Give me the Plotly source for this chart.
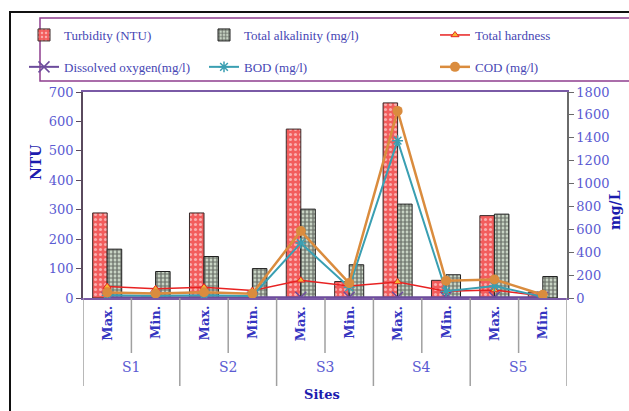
import plotly.graph_objects as go

# ---------------- data ----------------
sites = ["S1", "S2", "S3", "S4", "S5"]
levels = ["Max.", "Min."]
turbidity = [289, 3, 289, 3, 574, 56, 663, 60, 280, 20]          # NTU (left axis)
alkalinity = [166, 90, 141, 100, 302, 113, 319, 79, 285, 73]     # left axis
hardness = [100, 80, 95, 65, 155, 105, 140, 58, 70, 18]          # mg/L (right axis)
dissolved_oxygen = [7, 6, 7, 6, 7, 6, 7, 6, 7, 6]
bod = [25, 20, 25, 18, 480, 95, 1375, 60, 105, 10]
cod = [48, 40, 50, 38, 585, 130, 1635, 150, 162, 28]

# ---------------- geometry helpers ----------------
W, H = 629, 411
L, R, T, B = 83, 567, 92, 298
PW, PH = R - L, B - T


def px(xp):
    return (xp - L) / PW


def py(yp):
    return (B - yp) / PH


def cx(xp):
    return xp / W


def cy(yp):
    return 1 - yp / H


n = len(sites) * len(levels)
xs = list(range(n))
cat_labels = [lv for s in sites for lv in levels]

TICK = "#5b5bd2"
LBL = "#3434c0"
TTL = "#1c1cae"
LEG = "#4646b4"
SERIF = "DejaVu Serif"

fig = go.Figure()

fig.add_trace(go.Bar(
    x=xs, y=turbidity, name="Turbidity (NTU)", legend="legend",
    legendgroup="a",
    marker=dict(color="#f25c5c", line=dict(color="#3a2a2a", width=1),
                pattern=dict(shape=".", fgcolor="#ffffff", bgcolor="#f25c5c",
                             size=5, solidity=0.3)),
))
fig.add_trace(go.Bar(
    x=xs, y=alkalinity, name="Total alkalinity (mg/l)", legend="legend2",
    legendgroup="b",
    marker=dict(color="#e4f2e0", line=dict(color="#202020", width=1),
                pattern=dict(shape=".", fgcolor="#101010", bgcolor="#e4f2e0",
                             size=4, solidity=0.7)),
))

fig.add_trace(go.Scatter(
    x=xs, y=hardness, name="Total hardness", yaxis="y2", legend="legend3",
    legendgroup="c", mode="lines+markers",
    line=dict(color="#e82222", width=1.5),
    marker=dict(symbol="triangle-up", size=7, color="#f4b630",
                line=dict(color="#e82222", width=1)),
))
fig.add_trace(go.Scatter(
    x=xs, y=dissolved_oxygen, name="Dissolved oxygen(mg/l)", yaxis="y2",
    legend="legend", legendgroup="d", mode="lines+markers",
    line=dict(color="#6c4c9c", width=2),
    marker=dict(symbol="x-thin-open", size=11, color="#6c4c9c",
                line=dict(color="#6c4c9c", width=1.5)),
))
fig.add_trace(go.Scatter(
    x=xs, y=bod, name="BOD (mg/l)", yaxis="y2", legend="legend2",
    legendgroup="e", mode="lines+markers",
    line=dict(color="#3a9fb2", width=2),
    marker=dict(symbol="asterisk-open", size=9, color="#3a9fb2",
                line=dict(color="#3a9fb2", width=1.5)),
))
fig.add_trace(go.Scatter(
    x=xs, y=cod, name="COD (mg/l)", yaxis="y2", legend="legend3",
    legendgroup="f", mode="lines+markers",
    line=dict(color="#da8c3e", width=2.5),
    marker=dict(symbol="circle", size=10, color="#da8c3e"),
))

# ---------------- labels on the category axis ----------------
ann = []
for i, lab in enumerate(cat_labels):
    ann.append(dict(x=i, y=py(304), xref="x", yref="paper", text=lab,
                    textangle=-90, showarrow=False, yanchor="top",
                    xanchor="center",
                    font=dict(family=SERIF, size=13, color=LBL, weight="bold")))
for g, s in enumerate(sites):
    ann.append(dict(x=g * len(levels) + (len(levels) - 1) / 2, y=py(377),
                    xref="x", yref="paper", text=s, showarrow=False,
                    font=dict(family=SERIF, size=14, color=TICK)))
ann.append(dict(x=px(322), y=py(404), xref="paper", yref="paper",
                text="<b>Sites</b>", showarrow=False,
                font=dict(family=SERIF, size=13, color=TTL)))
ann.append(dict(x=px(26), y=py(163), xref="paper", yref="paper",
                text="<b>NTU</b>", textangle=-90, showarrow=False,
                font=dict(family=SERIF, size=14, color=TTL)))
ann.append(dict(x=px(625), y=py(210), xref="paper", yref="paper",
                text="<b>mg/L</b>", textangle=-90, showarrow=False,
                font=dict(family=SERIF, size=14, color=TTL)))

# ---------------- divider lines and frames ----------------
shapes = []
for k in range(n + 1):
    long_line = (k % len(levels) == 0)
    bottom = 386 if long_line else 353
    shapes.append(dict(type="line", xref="x", yref="paper",
                       x0=k - 0.5, x1=k - 0.5, y0=0, y1=py(bottom),
                       line=dict(color="#a0a0a0", width=1.5)))
# legend frame
shapes.append(dict(type="rect", xref="paper", yref="paper",
                   x0=px(40), x1=px(660), y0=py(81), y1=py(18),
                   line=dict(color="#8e3e8e", width=1.5)))
# outer frame
shapes.append(dict(type="rect", xref="paper", yref="paper",
                   x0=px(10), x1=px(660), y0=py(440), y1=py(12),
                   line=dict(color="#111111", width=2)))

legend_common = dict(
    orientation="v", yanchor="top", xanchor="left",
    xref="container", yref="container",
    bgcolor="rgba(0,0,0,0)", borderwidth=0, tracegroupgap=12,
    itemwidth=30,
    font=dict(family="Liberation Serif", size=13, color=LEG),
)

fig.update_layout(
    width=W, height=H,
    margin=dict(l=L, r=W - R, t=T, b=H - B, pad=0, autoexpand=False),
    paper_bgcolor="white", plot_bgcolor="white",
    barmode="group", bargap=0.4, bargroupgap=0,
    showlegend=True,
    legend=dict(x=cx(24), y=cy(20), **legend_common),
    legend2=dict(x=cx(204), y=cy(20), **legend_common),
    legend3=dict(x=cx(435), y=cy(20), **legend_common),
    xaxis=dict(range=[-0.5, n - 0.5], showticklabels=False, ticks="",
               showgrid=False, zeroline=False, showline=True,
               linecolor="#7a5aa6", linewidth=1.5, mirror=True),
    yaxis=dict(range=[0, 700], dtick=100, showgrid=False, zeroline=False,
               showline=True, linecolor="#5a4a5e", linewidth=1.5,
               ticks="outside", ticklen=5, tickcolor="#5a4a5e",
               tickfont=dict(family=SERIF, size=13, color=TICK)),
    yaxis2=dict(range=[0, 1800], dtick=200, overlaying="y", side="right",
                showgrid=False, zeroline=False, showline=True,
                linecolor="#6a6a6a", linewidth=1.5, ticks="outside",
                ticklen=5, tickcolor="#6a6a6a",
                tickfont=dict(family=SERIF, size=13, color=TICK)),
    annotations=ann,
    shapes=shapes,
)

fig.write_html(
    "out.html",
    config={"displayModeBar": False},
    post_script="document.body.style.margin='0';"
                "document.body.style.overflow='hidden';",
)
